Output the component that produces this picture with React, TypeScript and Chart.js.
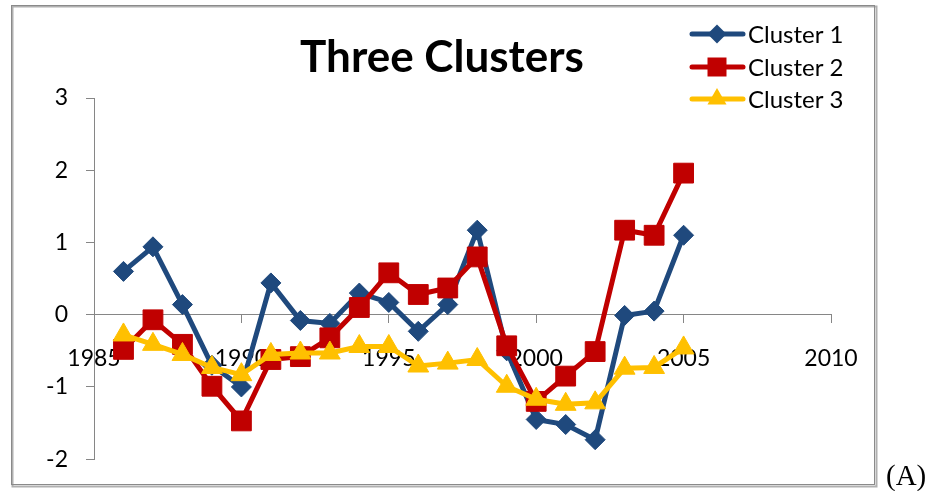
import React, { useEffect, useRef } from 'react';
import { Chart, registerables } from 'chart.js';

Chart.register(...registerables);

const years = [1986, 1987, 1988, 1989, 1990, 1991, 1992, 1993, 1994, 1995, 1996, 1997, 1998, 1999, 2000, 2001, 2002, 2003, 2004, 2005];
const cluster1 = [0.60, 0.94, 0.14, -0.70, -1.00, 0.44, -0.08, -0.12, 0.30, 0.17, -0.23, 0.14, 1.17, -0.50, -1.45, -1.52, -1.73, -0.01, 0.05, 1.10];
const cluster2 = [-0.48, -0.07, -0.41, -0.99, -1.47, -0.62, -0.58, -0.32, 0.10, 0.58, 0.28, 0.37, 0.80, -0.43, -1.20, -0.85, -0.51, 1.17, 1.10, 1.96];
const cluster3 = [-0.28, -0.41, -0.55, -0.73, -0.83, -0.55, -0.53, -0.53, -0.44, -0.44, -0.71, -0.67, -0.62, -0.99, -1.17, -1.24, -1.22, -0.74, -0.73, -0.46];
const xTickValues = [1985, 1990, 1995, 2000, 2005, 2010];
const yTickValues = [-2, -1, 0, 1, 2, 3];
const seriesNames = ['Cluster 1', 'Cluster 2', 'Cluster 3'];
const titleText = 'Three Clusters';
const panelLabel = '(A)';

const BLUE = '#1F497D';
const RED = '#C00000';
const YELLOW = '#FFC000';
const AXIS = '#868686';
const FONT = 'Lato, "Liberation Sans", sans-serif';

function toPoints(vals: number[]) {
  return years.map((y, i) => ({ x: y, y: vals[i] }));
}

function drawMarker(ctx: CanvasRenderingContext2D, style: string, x: number, y: number, color: string) {
  ctx.save();
  ctx.fillStyle = color;
  ctx.beginPath();
  if (style === 'rectRot') {
    const r = 9.5;
    ctx.moveTo(x, y - r);
    ctx.lineTo(x + r, y);
    ctx.lineTo(x, y + r);
    ctx.lineTo(x - r, y);
    ctx.closePath();
  } else if (style === 'rect') {
    const s = 9.5;
    ctx.rect(x - s, y - s, 2 * s, 2 * s);
  } else {
    const r = 11;
    ctx.moveTo(x, y - r);
    ctx.lineTo(x + r * 0.866, y + r * 0.5);
    ctx.lineTo(x - r * 0.866, y + r * 0.5);
    ctx.closePath();
  }
  ctx.fill();
  ctx.restore();
}

const decorPlugin = {
  id: 'decor',
  beforeDraw(chart: any) {
    const ctx = chart.ctx as CanvasRenderingContext2D;
    ctx.save();
    ctx.fillStyle = '#ffffff';
    ctx.fillRect(0, 0, chart.width, chart.height);
    ctx.strokeStyle = '#b0b0b0';
    ctx.lineWidth = 2;
    ctx.strokeRect(12.5, 6.5, 864, 480);
    ctx.strokeStyle = '#8a8a8a';
    ctx.lineWidth = 1;
    ctx.strokeRect(11.5, 5.5, 863, 479);
    ctx.restore();
  },
  afterDraw(chart: any) {
    const ctx = chart.ctx as CanvasRenderingContext2D;
    ctx.save();
    ctx.fillStyle = '#000000';
    ctx.font = `bold 44px ${FONT}`;
    ctx.textAlign = 'center';
    ctx.textBaseline = 'alphabetic';
    ctx.fillText(titleText, 442, 72);
    const colors = [BLUE, RED, YELLOW];
    const styles = ['rectRot', 'rect', 'triangle'];
    const rows = [34, 67, 99];
    ctx.font = `24px ${FONT}`;
    ctx.textAlign = 'left';
    ctx.textBaseline = 'middle';
    for (let i = 0; i < 3; i++) {
      const y = rows[i];
      ctx.strokeStyle = colors[i];
      ctx.lineWidth = 5;
      ctx.lineCap = 'round';
      ctx.beginPath();
      ctx.moveTo(692, y);
      ctx.lineTo(743, y);
      ctx.stroke();
      drawMarker(ctx, styles[i], 717, y, colors[i]);
      ctx.fillStyle = '#000000';
      ctx.fillText(seriesNames[i], 748, y + 1);
    }
    ctx.font = '29px "Liberation Serif", "Times New Roman", serif';
    ctx.textAlign = 'left';
    ctx.textBaseline = 'alphabetic';
    ctx.fillText(panelLabel, 886, 485);
    ctx.restore();
  },
};

export default function App() {
  const ref = useRef<HTMLCanvasElement>(null);
  useEffect(() => {
    document.body.style.margin = '0';
    if (!ref.current) return;
    const common = { borderWidth: 5, pointBorderWidth: 1, fill: false, tension: 0 };
    const chart = new Chart(ref.current, {
      type: 'line',
      data: {
        datasets: [
          { ...common, label: seriesNames[0], data: toPoints(cluster1), borderColor: BLUE, backgroundColor: BLUE, pointBackgroundColor: BLUE, pointBorderColor: BLUE, pointStyle: 'rectRot', pointRadius: 10, order: 3 },
          { ...common, label: seriesNames[1], data: toPoints(cluster2), borderColor: RED, backgroundColor: RED, pointBackgroundColor: RED, pointBorderColor: RED, pointStyle: 'rect', pointRadius: 14, order: 2 },
          { ...common, label: seriesNames[2], data: toPoints(cluster3), borderColor: YELLOW, backgroundColor: YELLOW, pointBackgroundColor: YELLOW, pointBorderColor: YELLOW, pointStyle: 'triangle', pointRadius: 12, order: 1 },
        ],
      },
      options: {
        responsive: false,
        animation: false,
        events: [],
        layout: { padding: { left: 0, right: 102, top: 98, bottom: 31 } },
        plugins: { legend: { display: false }, title: { display: false }, tooltip: { enabled: false } },
        scales: {
          x: {
            type: 'linear',
            position: { y: 0 } as any,
            min: 1985,
            max: 2010,
            afterBuildTicks: (s: any) => { s.ticks = xTickValues.map((v) => ({ value: v })); },
            afterFit: (s: any) => { s.height = 0; },
            grid: { drawOnChartArea: false, drawTicks: true, tickLength: 8, color: AXIS },
            border: { display: true, color: AXIS, width: 1 },
            ticks: { color: '#000', font: { family: FONT, size: 23 }, padding: 22, maxRotation: 0, autoSkip: false, callback: (v: any) => String(v) },
          },
          y: {
            type: 'linear',
            position: 'left',
            min: -2,
            max: 3,
            afterBuildTicks: (s: any) => { s.ticks = yTickValues.map((v) => ({ value: v })); },
            afterFit: (s: any) => { s.width = 94; },
            grid: { drawOnChartArea: false, drawTicks: true, tickLength: 8, color: AXIS },
            border: { display: true, color: AXIS, width: 1 },
            ticks: { color: '#000', font: { family: FONT, size: 23 }, padding: 18, callback: (v: any) => String(v) },
          },
        },
      },
      plugins: [decorPlugin],
    } as any);
    return () => chart.destroy();
  }, []);
  return (
    <div style={{ position: 'absolute', left: 0, top: 0, width: 933, height: 491 }}>
      <canvas ref={ref} width={933} height={491} style={{ width: 933, height: 491, display: 'block' }} />
    </div>
  );
}
